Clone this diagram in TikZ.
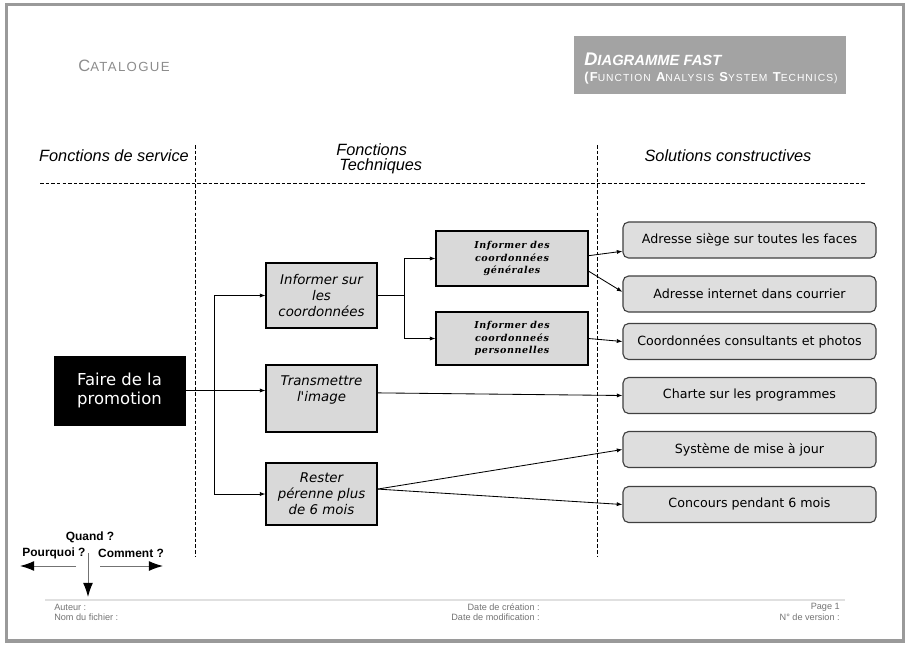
\documentclass[tikz,border=0pt]{standalone}
\usepackage{fontspec}
\setmainfont{Liberation Sans}
\newfontfamily\vera{DejaVu Sans}[ItalicFont={DejaVu Sans Oblique},BoldItalicFont={DejaVu Sans Bold Oblique}]
\newfontfamily\veraserif{DejaVu Serif}[LetterSpace=6,BoldItalicFont={DejaVu Serif Bold Italic}]
\newfontfamily\spaced{Liberation Sans}[LetterSpace=10]
\usepackage{tikz}
\usetikzlibrary{calc,positioning,arrows.meta}

\definecolor{cadre}{HTML}{9A9A9A}
\definecolor{gristech}{HTML}{D9D9D9}
\definecolor{grissol}{HTML}{DEDEDE}
\definecolor{gristitre}{HTML}{A3A3A3}
\definecolor{griscat}{HTML}{8C8C8C}

\newcommand{\petitcap}[2]{{\fontsize{9.2}{11}\selectfont\bfseries #1}{\fontsize{7.3}{9}\selectfont #2}}

\begin{document}
\begin{tikzpicture}[x=0.025cm,y=-0.025cm,
        fonction/.style={draw,fill=gristech,line width=0.8pt,align=center,minimum width=2.775cm,
            inner sep=2pt,font=\vera\itshape\fontsize{9.5}{11.5}\selectfont},
        sousfonction/.style={draw,fill=gristech,line width=0.8pt,align=center,minimum width=3.8cm,
            font=\veraserif\bfseries\itshape\fontsize{6.8}{8.7}\selectfont},
        solution/.style={draw=black!75,fill=grissol,rounded corners=4pt,line width=0.8pt,
            minimum width=6.325cm,minimum height=0.9cm,font=\vera\fontsize{9}{11}\selectfont},
        entete/.style={font=\itshape\fontsize{11.6}{13}\selectfont},
        question/.style={font=\bfseries\fontsize{8.5}{10}\selectfont},
        pointille/.style={dash pattern=on 2.5pt off 1.5pt,line width=0.6pt},
        lien/.style={-{Latex[length=4pt,width=3pt]},line width=0.6pt},
        legende/.style={-{Latex[length=10pt,width=7pt,color=black]},line width=0.7pt,black!55},
        pied/.style={font=\fontsize{6.5}{7.5}\selectfont,text=black!55,inner sep=0pt}
    ]
    \useasboundingbox (0,0) rectangle (905,644);
    \draw[cadre,line width=2.2pt] (6.5,4.5) rectangle (903.5,641);

    \node[text=griscat,font=\spaced] (catalogue) at (124,66)
        {{\fontsize{11.7}{13}\selectfont C}{\fontsize{9.4}{11}\selectfont ATALOGUE}};
    \fill[gristitre] (574,36) rectangle (846,94);
    \node[anchor=west,text=white,inner sep=0pt,font=\bfseries\itshape] (titre) at (584,59)
        {{\fontsize{13}{15}\selectfont D}{\fontsize{10.5}{12}\selectfont IAGRAMME FAST}};
    \node[anchor=west,text=white,inner sep=0pt,font=\spaced] (soustitre) at (584,78)
        {\petitcap{(F}{UNCTION} \petitcap{A}{NALYSIS} \petitcap{S}{YSTEM} \petitcap{T}{ECHNICS)}};

    \node[entete] (service) at (114,156) {Fonctions de service};
    \node[entete,anchor=west,inner sep=0pt] (techA) at (336,150) {Fonctions};
    \node[entete,anchor=west,inner sep=0pt] (techB) at (339,166) {Techniques};
    \node[entete] (solutions) at (728,156) {Solutions constructives};

    \draw[pointille] (40,183) -- (866,183);
    \draw[pointille] (195,145) -- (195,556);
    \draw[pointille] (597,145) -- (597,556);

    \node[draw,fill=black,text=white,minimum width=3.275cm,minimum height=1.725cm,align=center,
        font=\vera\fontsize{11.7}{14}\selectfont] (faire) at (119.5,390.5) {Faire de la\\promotion};

    \node[fonction,minimum height=1.625cm] (informer) at (321.5,295.5) {Informer sur\\les\\coordonnées};
    \node[fonction,minimum height=1.675cm] (transmettre) at (321.5,398.5) {Transmettre\\l'image\\[2pt]};
    \node[fonction,minimum height=1.55cm] (rester) at (321.5,494) {Rester\\pérenne plus\\de 6 mois};

    \node[sousfonction,minimum height=1.375cm] (generales) at (512,258.5) {Informer des\\coordonnées\\générales};
    \node[sousfonction,minimum height=1.325cm] (personnelles) at (512,338.5) {Informer des\\coordonneés\\personnelles};

    \node[solution] (siege) at (749.5,240) {Adresse siège sur toutes les faces};
    \node[solution] (internet) at (749.5,294) {Adresse internet dans courrier};
    \node[solution] (coordonnees) at (749.5,341.5) {Coordonnées consultants et photos};
    \node[solution] (charte) at (749.5,395.5) {Charte sur les programmes};
    \node[solution] (systeme) at (749.5,449.5) {Système de mise à jour};
    \node[solution] (concours) at (749.5,504.5) {Concours pendant 6 mois};

    \coordinate (tronc) at (214,390.5);
    \coordinate (fourche) at (404,295.5);

    \draw[lien] (faire.east) -- (faire.east -| transmettre.west);
    \draw (tronc |- informer.west) -- (tronc |- rester.west);
    \draw[lien] (tronc |- informer.west) -- (informer.west);
    \draw[lien] (tronc |- rester.west) -- (rester.west);

    \draw (informer.east) -- (fourche);
    \draw (fourche |- generales.west) -- (fourche |- personnelles.west);
    \draw[lien] (fourche |- generales.west) -- (generales.west);
    \draw[lien] (fourche |- personnelles.west) -- (personnelles.west);

    \draw[lien] ([yshift=2pt]generales.east) -- ([yshift=-8pt]siege.west);
    \draw[lien] ([yshift=-9pt]generales.east) -- ([yshift=1.5pt]internet.west);
    \draw[lien] (personnelles.east) -- (coordonnees.west);
    \draw[lien] ([yshift=4pt]transmettre.east) -- (charte.west);
    \draw[lien] ([yshift=3.5pt]rester.east) -- (systeme.west);
    \draw[lien] ([yshift=3.5pt]rester.east) -- (concours.west);

    \node[question] (quand) at (90,537) {Quand ?};
    \node[question] (pourquoi) at (54,553) {Pourquoi ?};
    \node[question] (comment) at (131,553) {Comment ?};
    \coordinate (gauche) at (76,566);
    \coordinate (droite) at (100,566);
    \coordinate (centre) at (88,553);
    \draw[legende] (gauche) -- (20,566);
    \draw[legende] (droite) -- (163,566);
    \draw[legende] (centre) -- (88,597);

    \draw[black!12,line width=1.5pt] (45,600) -- (845,600);
    \node[pied,anchor=west] (auteur) at (54,607) {Auteur :};
    \node[pied,anchor=west] (fichier) at (54,617) {Nom du fichier :};
    \node[pied,anchor=east] (creation) at (540,607) {Date de création :};
    \node[pied,anchor=east] (modif) at (540,617) {Date de modification :};
    \node[pied,anchor=east] (page) at (840,607) {Page 1};
    \node[pied,anchor=east] (version) at (840,617) {N° de version :};
\end{tikzpicture}
\end{document}
